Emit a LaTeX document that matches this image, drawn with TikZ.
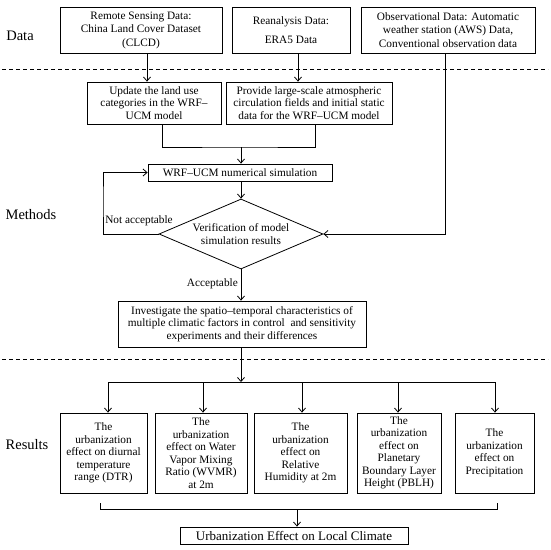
\documentclass[tikz,border=0pt]{standalone}
\usepackage{fontspec}
\setmainfont{Liberation Serif}
\usetikzlibrary{arrows.meta,shapes.geometric,calc}
\begin{document}
\begin{tikzpicture}[x=1pt,y=-1pt,
  every node/.style={font=\fontsize{11.3}{12.5}\selectfont},
  box/.style={draw, line width=0.8pt, inner sep=0pt, align=center},
  lbl/.style={font=\fontsize{14.5}{16}\selectfont},
  arr/.style={-{Straight Barb[length=4pt,width=7pt]}, line width=0.8pt},
  ln/.style={line width=0.8pt},
  sep/.style={dash pattern=on 4pt off 3pt, line width=0.7pt}]
\useasboundingbox (0,0) rectangle (550,550);

% separators
\coordinate (s1l) at (2,69);  \coordinate (s1r) at (548,69);
\coordinate (s2l) at (2,359); \coordinate (s2r) at (548,359);
\draw[sep] (s1l) -- (s1r);
\draw[sep] (s2l) -- (s2r);

% section labels
\node[lbl] (ldata) at (20,36) {Data};
\node[lbl] (lmeth) at (31,215) {Methods};
\node[lbl] (lres) at (27,445) {Results};

% data boxes
\node[box, minimum width=162pt, minimum height=46pt] (A) at (141,30)
  {Remote Sensing Data:\\[1pt]China Land Cover Dataset\\[1pt](CLCD)};
\node[box, minimum width=118pt, minimum height=46pt] (B) at (291,30)
  {Reanalysis Data:\\[6pt]ERA5 Data};
\node[box, minimum width=174pt, minimum height=46pt] (C) at (448,30)
  {Observational Data: Automatic\\[1pt]weather station (AWS) Data,\\[1pt]Conventional observation data};

% methods
\node[box, minimum width=134pt, minimum height=42pt] (upd) at (154,103)
  {Update the land use\\categories in the WRF–\\UCM model};
\node[box, minimum width=166pt, minimum height=42pt] (prov) at (309,103)
  {Provide large-scale atmospheric\\circulation fields and initial static\\data for the WRF–UCM model};
\node[box, minimum width=184pt, minimum height=17pt] (wrf) at (240,172.5)
  {WRF–UCM numerical simulation};
\node[draw, diamond, aspect=2.34, inner sep=0pt, minimum width=164pt, minimum height=70pt,
  align=center, line width=0.8pt] (dia) at (241,234)
  {Verification of model\\simulation results};
\node[box, minimum width=248pt, minimum height=46pt] (inv) at (242,324)
  {Investigate the spatio–temporal characteristics of\\multiple climatic factors in control\ \ and sensitivity\\experiments and their differences};

\node (nacc) at (139,221) {Not acceptable};
\node[anchor=east, inner sep=1pt] (acc) at (239,284) {Acceptable};

% results
\node[box, minimum width=87pt, minimum height=80pt] (r1) at (103.5,453)
  {The\\urbanization\\effect on diurnal\\temperature\\range (DTR)};
\node[box, minimum width=92pt, minimum height=80pt] (r2) at (201,453)
  {The\\urbanization\\effect on Water\\Vapor Mixing\\Ratio (WVMR)\\at 2m};
\node[box, minimum width=93pt, minimum height=80pt] (r3) at (300.5,453)
  {The\\urbanization\\effect on\\Relative\\Humidity at 2m};
\node[box, minimum width=84pt, minimum height=80pt] (r4) at (399,453)
  {The\\urbanization\\effect on\\Planetary\\Boundary Layer\\Height (PBLH)};
\node[box, minimum width=79pt, minimum height=80pt] (r5) at (494.5,453)
  {The\\urbanization\\effect on\\Precipitation};
\node[box, minimum width=228pt, minimum height=17pt, font=\fontsize{13}{15}\selectfont] (fin) at (294,535.5)
  {Urbanization Effect on Local Climate};

% connectors: data -> methods
\draw[arr] ([xshift=6pt]A.south) -- ([xshift=-7pt]upd.north);
\draw[arr] ([xshift=7pt]B.south) -- ([xshift=-11pt]prov.north);
\draw[arr] ([xshift=-3pt]C.south) |- (dia.east);

% merge into WRF
\coordinate (m) at (241,147);
\draw[ln] ([xshift=8pt]upd.south) |- (m) -| ([xshift=6pt]prov.south);
\draw[arr] (m) -- (wrf.north -| m);
\draw[arr] (wrf.south -| dia.north) -- (dia.north);

% loop
\coordinate (lp) at (103,200);
\draw[arr] (dia.west) -| (lp) |- (wrf.west);

% acceptable
\draw[arr] (dia.south) -- (inv.north -| dia.south);

% distribution bar
\coordinate (bar) at (241,382);
\coordinate (b1) at (108,382);
\coordinate (b2) at (203,382);
\coordinate (b3) at (302,382);
\coordinate (b4) at (398,382);
\coordinate (b5) at (495,382);
\draw[arr] (inv.south -| bar) -- (bar);
\draw[ln] (b1) -- (b5);
\draw[arr] (b1) -- (r1.north -| b1);
\draw[arr] (b2) -- (r2.north -| b2);
\draw[arr] (b3) -- (r3.north -| b3);
\draw[arr] (b4) -- (r4.north -| b4);
\draw[arr] (b5) -- (r5.north -| b5);

% bracket
\coordinate (bl) at (100,509);
\coordinate (br) at (497,509);
\coordinate (bs) at (297,509);
\draw[ln] ([yshift=6pt]bl) -- (bl) -- (br) -- ([yshift=6pt]br);
\draw[arr] (bs) -- (fin.north -| bs);
\end{tikzpicture}
\end{document}
